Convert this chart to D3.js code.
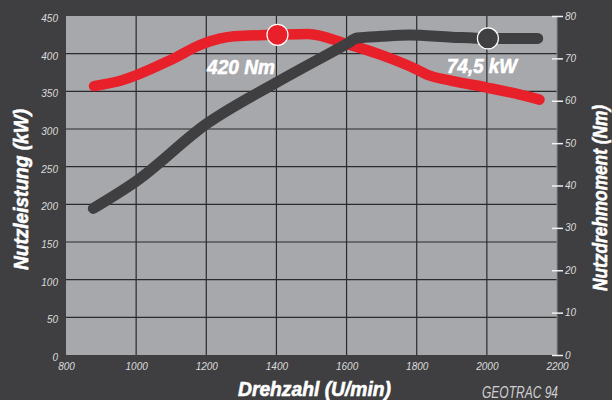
<!DOCTYPE html>
<html>
<head>
<meta charset="utf-8">
<script src="https://cdn.jsdelivr.net/npm/d3@7"></script>
<style>
  html, body { margin: 0; padding: 0; background: #3f3f41; }
  svg { display: block; }
  text { font-family: 'Liberation Sans', Arial, sans-serif; font-style: italic; }
</style>
</head>
<body>
<svg id="chart"></svg>
<script>
// Drehmoment (red, left scale) and Leistung (dark, right scale)
const torqueRpm = [880, 955, 1100, 1190, 1280, 1400, 1490, 1600, 1700, 1800, 1830, 1900, 2000, 2100, 2150];
const torqueNm  = [357, 364, 392, 413, 423, 425, 426, 413, 398, 379, 372, 364, 355, 345, 339];

const powerRpm = [878, 1000, 1200, 1400, 1600, 1630, 1700, 1780, 1900, 2000, 2145];
const powerKw  = [34.6, 41, 54.5, 64.3, 73.4, 74.8, 75.2, 75.5, 75.0, 74.7, 74.7];

const torqueMarker = {rpm: 1403, value: 425, label: '420 Nm'};
const powerMarker = {rpm: 2003, value: 74.7, label: '74,5 kW'};

const xTicks = [800, 1000, 1200, 1400, 1600, 1800, 2000, 2200];
const leftTicks = [0, 50, 100, 150, 200, 250, 300, 350, 400, 450];
const rightTicks = [0, 10, 20, 30, 40, 50, 60, 70, 80];

const width = 612, height = 400;
const plot = {left: 66, right: 557, top: 16, bottom: 355};

let svg = d3.select('#chart')
        .attr('width', width)
        .attr('height', height);

svg.append('rect')
        .attr('width', width)
        .attr('height', height)
        .attr('fill', '#3f3f41');

let x = d3.scaleLinear().domain([800, 2200]).range([plot.left, plot.right]);
let yLeft = d3.scaleLinear().domain([0, 450]).range([plot.bottom, plot.top]);
let yRight = d3.scaleLinear().domain([0, 80]).range([plot.bottom, plot.top]);

svg.append('rect')
        .attr('x', plot.left)
        .attr('y', plot.top)
        .attr('width', plot.right - plot.left)
        .attr('height', plot.bottom - plot.top)
        .attr('fill', '#a7a8ab');

// grid
let grid = svg.append('g').attr('stroke', '#2b2b2d').attr('stroke-width', 1.2);
grid.selectAll('line.v')
        .data(xTicks.slice(1, -1))
        .join('line')
        .attr('class', 'v')
        .attr('x1', d => x(d)).attr('x2', d => x(d))
        .attr('y1', plot.top).attr('y2', plot.bottom);
grid.selectAll('line.h')
        .data(leftTicks.slice(1, -1))
        .join('line')
        .attr('class', 'h')
        .attr('x1', plot.left).attr('x2', plot.right)
        .attr('y1', d => yLeft(d)).attr('y2', d => yLeft(d));

svg.append('line')
        .attr('x1', plot.right).attr('x2', plot.right)
        .attr('y1', plot.top).attr('y2', plot.bottom)
        .attr('stroke', '#8a8b8e').attr('stroke-width', 1);

// axes
let tickColor = '#dcdcdc';
let tickFont = '10px';

let leftAxis = svg.append('g')
        .attr('transform', `translate(${plot.left},0)`)
        .call(d3.axisLeft(yLeft).tickValues(leftTicks).tickSize(0).tickPadding(8));
leftAxis.select('.domain').remove();
leftAxis.selectAll('text')
        .attr('dy', '0.55em')
        .attr('fill', tickColor)
        .style('font-size', tickFont);

let rightAxis = svg.append('g')
        .attr('transform', `translate(${plot.right - 5},0)`)
        .call(d3.axisRight(yRight).tickValues(rightTicks).tickSize(11).tickPadding(2));
rightAxis.select('.domain').remove();
rightAxis.selectAll('line').attr('stroke', '#f0f0f0').attr('stroke-width', 1.5);
rightAxis.selectAll('text')
        .attr('dy', '0.3em')
        .attr('fill', tickColor)
        .style('font-size', tickFont);

let bottomAxis = svg.append('g')
        .attr('transform', `translate(0,${plot.bottom})`)
        .call(d3.axisBottom(x).tickValues(xTicks).tickFormat(d3.format('d')).tickSize(0).tickPadding(6));
bottomAxis.select('.domain').remove();
bottomAxis.selectAll('text')
        .attr('dy', '0.9em')
        .attr('fill', tickColor)
        .style('font-size', tickFont);

// curves
let torqueLine = d3.line()
        .x(d => x(d[0]))
        .y(d => yLeft(d[1]))
        .curve(d3.curveMonotoneX);
let powerLine = d3.line()
        .x(d => x(d[0]))
        .y(d => yRight(d[1]))
        .curve(d3.curveMonotoneX);

svg.append('path')
        .datum(d3.zip(torqueRpm, torqueNm))
        .attr('d', torqueLine)
        .attr('fill', 'none')
        .attr('stroke', '#e8202a')
        .attr('stroke-width', 10.5)
        .attr('stroke-linecap', 'round')
        .attr('stroke-linejoin', 'round');

svg.append('path')
        .datum(d3.zip(powerRpm, powerKw))
        .attr('d', powerLine)
        .attr('fill', 'none')
        .attr('stroke', '#3f3f41')
        .attr('stroke-width', 11)
        .attr('stroke-linecap', 'round')
        .attr('stroke-linejoin', 'round');

// markers
svg.append('circle')
        .attr('cx', x(torqueMarker.rpm))
        .attr('cy', yLeft(torqueMarker.value))
        .attr('r', 10.5)
        .attr('fill', '#e8202a')
        .attr('stroke', '#ffffff')
        .attr('stroke-width', 1.2);
svg.append('circle')
        .attr('cx', x(powerMarker.rpm))
        .attr('cy', yRight(powerMarker.value))
        .attr('r', 10.5)
        .attr('fill', '#3f3f41')
        .attr('stroke', '#ffffff')
        .attr('stroke-width', 1.2);

// condensed bold italic text, squeezed to the reference widths
function boldText(px, len) {
    return sel => sel
            .attr('fill', '#ffffff')
            .attr('stroke', '#ffffff')
            .attr('stroke-width', 0.6)
            .attr('textLength', len)
            .attr('lengthAdjust', 'spacingAndGlyphs')
            .style('font-weight', 'bold')
            .style('font-size', px + 'px');
}

svg.append('text')
        .attr('x', 207)
        .attr('y', 73.5)
        .call(boldText(21, 68))
        .text(torqueMarker.label);
svg.append('text')
        .attr('x', 447)
        .attr('y', 73)
        .call(boldText(21, 70))
        .text(powerMarker.label);

// titles
svg.append('text')
        .attr('transform', 'translate(28,270) rotate(-90)')
        .call(boldText(21, 161))
        .text('Nutzleistung (kW)');
svg.append('text')
        .attr('transform', 'translate(607,291) rotate(-90)')
        .call(boldText(21, 186))
        .text('Nutzdrehmoment (Nm)');
svg.append('text')
        .attr('x', 238)
        .attr('y', 396)
        .call(boldText(21, 153))
        .text('Drehzahl (U/min)');
svg.append('text')
        .attr('x', 482)
        .attr('y', 397.5)
        .attr('fill', '#d0d0d0')
        .attr('textLength', 76)
        .attr('lengthAdjust', 'spacingAndGlyphs')
        .style('font-size', '16px')
        .text('GEOTRAC 94');
</script>
</body>
</html>
